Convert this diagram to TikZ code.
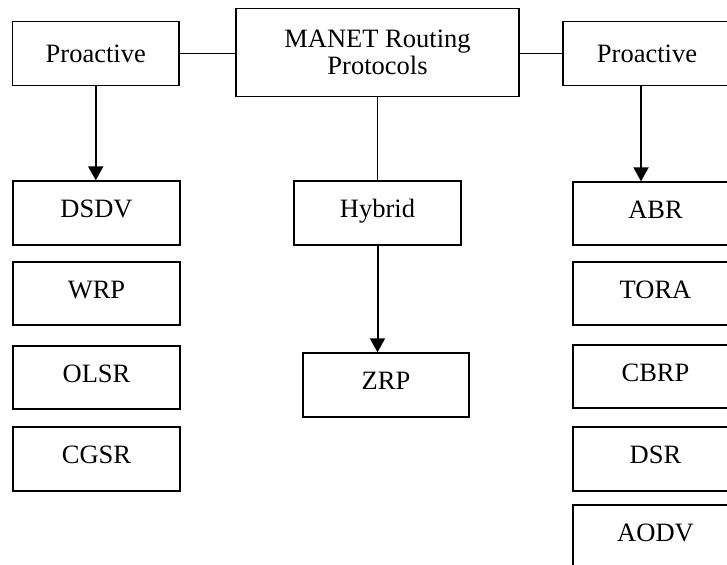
\documentclass[tikz,border=0pt]{standalone}
\usepackage{fontspec}
\setmainfont{Liberation Serif}
\usetikzlibrary{arrows.meta}

\tikzset{
  box/.style={draw=black, line width=1.4pt, fill=white, inner sep=0pt,
              align=center, font=\fontsize{26.5}{27}\selectfont},
  onerow/.style={text height=19pt, text depth=9.5pt},
  link/.style={draw=black, line width=1.5pt},
  stem/.style={draw=black, line width=1.2pt},
  flow/.style={draw=black, line width=2pt,
               -{Triangle[length=14pt,width=15pt]}},
}

\begin{document}
\begin{tikzpicture}[x=1pt, y=-1pt]
  \useasboundingbox (0,0) rectangle (727,564);
  \clip (0,0) rectangle (727,564);

  % top row
  \node[box, minimum width=166.5pt, minimum height=64pt] (pl) at (95.75,53.6) {Proactive};
  \node[box, minimum width=283pt, minimum height=88.4pt] (manet) at (377.5,52.5) {MANET Routing\\Protocols};
  \node[box, minimum width=168pt, minimum height=64pt] (pr) at (647,53.6) {Proactive};

  % left column
  \node[box, onerow, minimum width=167pt, minimum height=64pt] (dsdv) at (96.5,213) {DSDV};
  \node[box, onerow, minimum width=167pt, minimum height=63pt] (wrp) at (96.5,293.5) {WRP};
  \node[box, onerow, minimum width=167pt, minimum height=63pt] (olsr) at (96.5,377.5) {OLSR};
  \node[box, onerow, minimum width=167pt, minimum height=64pt] (cgsr) at (96.5,459) {CGSR};

  % middle column
  \node[box, onerow, minimum width=167pt, minimum height=64pt] (hybrid) at (377.5,213) {Hybrid};
  \node[box, onerow, minimum width=166pt, minimum height=64pt] (zrp) at (386,385) {ZRP};

  % right column
  \node[box, onerow, minimum width=165pt, minimum height=63pt] (abr) at (655.5,213.5) {ABR};
  \node[box, onerow, minimum width=165pt, minimum height=63pt] (tora) at (655.5,293.5) {TORA};
  \node[box, onerow, minimum width=165pt, minimum height=63pt] (cbrp) at (655.5,376.5) {CBRP};
  \node[box, onerow, minimum width=165pt, minimum height=64pt] (dsr) at (655.5,459) {DSR};
  \node[box, onerow, minimum width=165pt, minimum height=64pt] (aodv) at (655.5,537) {AODV};

  % connectors
  \draw[link] (pl.east) -- (pl.east -| manet.west);
  \draw[link] (pr.west -| manet.east) -- (pr.west);
  \draw[stem] (manet.south) -- (hybrid.north);

  \draw[flow] (pl.south) -- (pl.south |- dsdv.north);
  \draw[flow] (hybrid.south) -- (hybrid.south |- zrp.north);
  \coordinate (prfoot) at ([xshift=-6pt]pr.south);
  \draw[flow] (prfoot) -- (prfoot |- abr.north);
\end{tikzpicture}
\end{document}
